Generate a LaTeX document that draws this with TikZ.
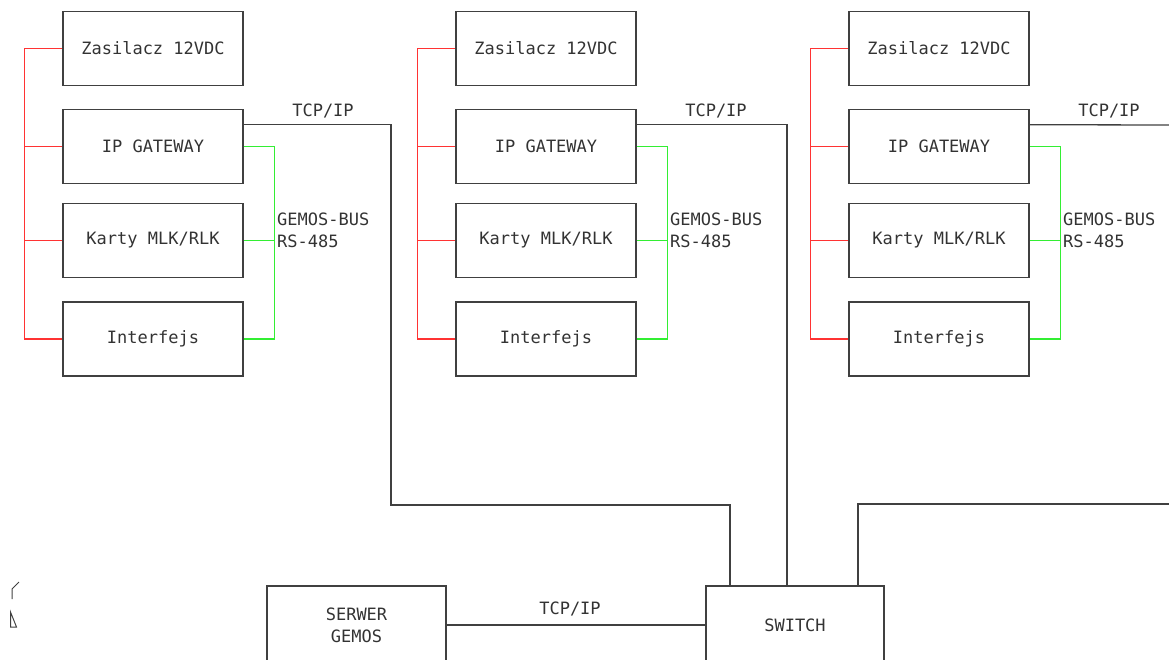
\documentclass[tikz,border=0pt]{standalone}
\usepackage{fontspec}
\setmonofont{DejaVu Sans Mono}
\usetikzlibrary{calc}
\definecolor{boxgray}{HTML}{404040}
\definecolor{busgreen}{HTML}{33EE33}
\definecolor{powerred}{HTML}{FF3333}
\begin{document}
\begin{tikzpicture}[x=1pt,y=-1pt,
  font=\ttfamily\fontsize{17}{20}\selectfont,
  box/.style={draw=boxgray,line width=1.6pt,minimum width=180pt,minimum height=74pt,inner sep=0pt,text=black!80},
  tcp/.style={draw=boxgray,line width=1.3pt},
  power/.style={draw=powerred,line width=1.3pt},
  bus/.style={draw=busgreen,line width=1.3pt},
  lbl/.style={inner sep=0pt,text=black!80}]
  \useasboundingbox (0,0) rectangle (1169,659);
  \clip (0,0) rectangle (1169,659);
  % three cabinets
  \foreach \g/\dx in {1/0,2/393,3/786}{
    \node[box] (zas\g) at (\dx+153,48.5) {Zasilacz 12VDC};
    \node[box] (gw\g) at (\dx+153,146.5) {IP GATEWAY};
    \node[box] (karty\g) at (\dx+153,240.5) {Karty MLK/RLK};
    \node[box] (int\g) at (\dx+153,339) {Interfejs};
    % zasilanie
    \draw[power] (zas\g.west) -- ++(-38,0) coordinate (pw\g) |- (int\g.west);
    \draw[power] (gw\g.west) -- (gw\g.west -| pw\g);
    \draw[power] (karty\g.west) -- (karty\g.west -| pw\g);
    % magistrala
    \draw[bus] (gw\g.east) -- ++(31,0) coordinate (bs\g) |- (int\g.east);
    \draw[bus] (karty\g.east) -- (karty\g.east -| bs\g);
    \node[lbl,anchor=west] (gb\g) at (\dx+277,219) {GEMOS-BUS};
    \node[lbl,anchor=west] (rs\g) at (\dx+277,241.5) {RS-485};
    \node[lbl] (tl\g) at (\dx+323,111) {TCP/IP};
  }
  % serwer i switch
  \node[box,minimum width=179pt,minimum height=78pt,align=center,font=\ttfamily\fontsize{17}{22}\selectfont] (srv) at (356.5,625) {SERWER\\GEMOS};
  \node[box,minimum width=178pt,minimum height=78pt] (sw) at (795,625) {SWITCH};
  \draw[tcp] (srv.east) -- (sw.west);
  \node[lbl] (tls) at (570,609) {TCP/IP};
  % TCP/IP
  \coordinate (k1) at (391,505);
  \coordinate (e3) at (1169,125);
  \coordinate (f3) at (1169,504);
  \draw[tcp] ([yshift=-16pt]gw1.north east) -| (k1) -| ([xshift=-65pt]sw.north);
  \draw[tcp] ([yshift=-16pt]gw2.north east) -| ([xshift=-8pt]sw.north);
  \draw[tcp] ([yshift=-16pt]gw3.north east) -- (e3);
  \draw[tcp] (f3) -| ([xshift=63pt]sw.north);
  % obciete znaki
  \draw[boxgray,line width=1pt] (12,599) -- (12,589) -- (19,582);
  \draw[boxgray,line width=1pt] (10.5,612) -- (10.5,627) -- (16.5,627) -- cycle;
\end{tikzpicture}
\end{document}
